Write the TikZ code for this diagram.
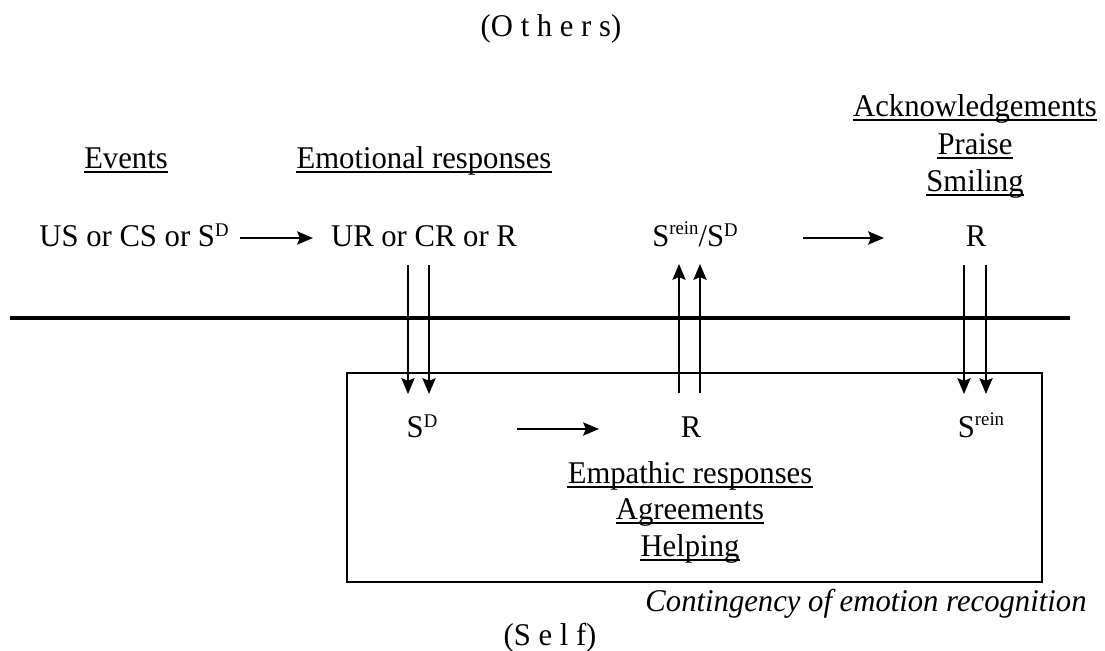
\documentclass[tikz,border=0pt]{standalone}
\usepackage{fontspec}
\setmainfont{Liberation Serif}[FakeStretch=0.97]
\usetikzlibrary{arrows.meta}
\tikzset{
  lbl/.style={inner sep=0pt, font=\fontsize{18}{22}\selectfont, anchor=base},
  conn/.style={line width=1.1pt, -{Stealth[length=9pt,width=7.5pt,inset=1.5pt]}},
  uline/.style={line width=0.9pt},
  divider/.style={line width=2.4pt},
  frame/.style={line width=1.1pt}
}
% small raised indices
\newcommand{\idxD}{\raisebox{5.2pt}{\fontsize{11}{11}\selectfont D}}
\newcommand{\idxR}{\raisebox{6.6pt}{\fontsize{11}{11}\selectfont rein}}
\newcommand{\sD}{S\idxD}
\newcommand{\sR}{S\idxR}
\begin{document}
\begin{tikzpicture}[x=0.02cm, y=-0.02cm]
\useasboundingbox (0,0) rectangle (1105,650);

% others side
\node[lbl] (others) at (551,36) {(O t h e r s)};
\node[lbl] (events) at (126,168) {Events};
\node[lbl] (emo) at (424,168) {Emotional responses};
\node[lbl] (ack) at (975,116) {Acknowledgements};
\node[lbl] (praise) at (975,154) {Praise};
\node[lbl] (smile) at (975,191) {Smiling};

\node[lbl] (us) at (134,246) {US or CS or \sD};
\node[lbl] (ur) at (424,246) {UR or CR or R};
\node[lbl] (srsd) at (695,246) {\sR/\sD};
\node[lbl] (rtop) at (976,246) {R};

\coordinate (u1) at (240,238);
\coordinate (u2) at (313,238);
\coordinate (o1) at (803,238);
\coordinate (o2) at (884,238);
\draw[conn] (u1) -- (u2);
\draw[conn] (o1) -- (o2);

% dividing line
\coordinate (dl) at (10,318);
\coordinate (dr) at (1070,318);
\draw[divider] (dl) -- (dr);

% self box
\coordinate (bx1) at (347,373);
\coordinate (bx2) at (1042,582);
\draw[frame] (bx1) rectangle (bx2);

\node[lbl] (sd) at (422,437) {\sD};
\node[lbl] (rself) at (691,437) {R};
\node[lbl] (srein) at (981,437) {\sR};
\coordinate (i1) at (517,429);
\coordinate (i2) at (599,429);
\draw[conn] (i1) -- (i2);

\node[lbl] (emp) at (690,483) {Empathic responses};
\node[lbl] (agr) at (690,519) {Agreements};
\node[lbl] (help) at (690,556) {Helping};

\node[lbl, font=\fontsize{18}{22}\selectfont\itshape] (cont) at (866,611) {Contingency of emotion recognition};
\node[lbl] (self) at (550,645) {(S e l f)};

% underlined headings
\foreach \n in {events,emo,ack,praise,smile,emp,agr,help}
  \draw[uline] ([yshift=-2.2pt]\n.base west) -- ([yshift=-2.2pt]\n.base east);

% vertical connectors across the divider
\coordinate (a1t) at (408,265); \coordinate (a1b) at (408,394);
\coordinate (a2t) at (429,265); \coordinate (a2b) at (429,394);
\coordinate (b1t) at (679,264); \coordinate (b1b) at (679,393);
\coordinate (b2t) at (700,264); \coordinate (b2b) at (700,393);
\coordinate (c1t) at (964,265); \coordinate (c1b) at (964,394);
\coordinate (c2t) at (986,265); \coordinate (c2b) at (986,394);
\draw[conn] (a1t) -- (a1b);
\draw[conn] (a2t) -- (a2b);
\draw[conn] (b1b) -- (b1t);
\draw[conn] (b2b) -- (b2t);
\draw[conn] (c1t) -- (c1b);
\draw[conn] (c2t) -- (c2b);
\end{tikzpicture}
\end{document}
